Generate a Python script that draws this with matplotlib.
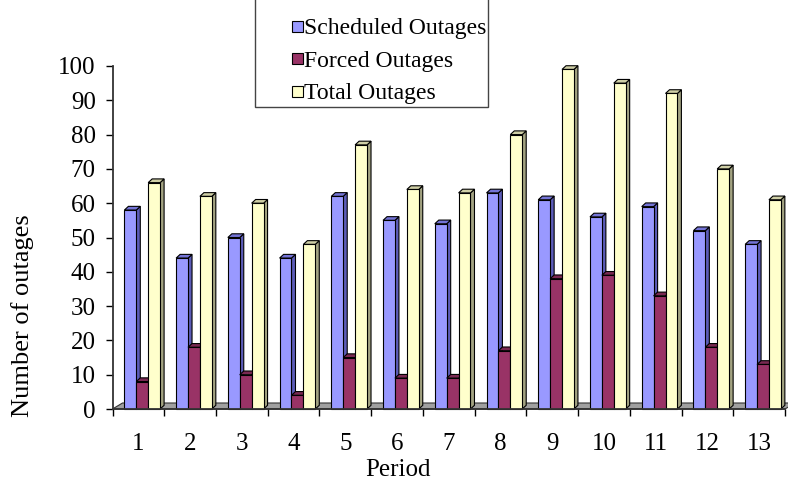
import matplotlib
matplotlib.use("Agg")
import matplotlib.pyplot as plt
from matplotlib.patches import Polygon, Rectangle
import numpy as np

plt.rcParams['font.family'] = ['Liberation Serif', 'DejaVu Serif']

# outages per period
periods = ['1', '2', '3', '4', '5', '6', '7', '8', '9', '10', '11', '12', '13']
scheduled = [58, 44, 50, 44, 62, 55, 54, 63, 61, 56, 59, 52, 48]
forced = [8, 18, 10, 4, 15, 9, 9, 17, 38, 39, 33, 18, 13]
total = [66, 62, 60, 48, 77, 64, 63, 80, 99, 95, 92, 70, 61]

series = [
    ('Scheduled Outages', scheduled, '#9999FF', '#5C5CB8', '#7474D6'),
    ('Forced Outages', forced, '#993366', '#5E1F3F', '#7A2952'),
    ('Total Outages', total, '#FFFFCC', '#A3A382', '#CFCFA6'),
]

W, H = 788, 484
fig = plt.figure(figsize=(W / 100, H / 100), dpi=100)
ax_l, ax_r, ax_b, ax_t = 112.5, 785, 409, 66
ax = fig.add_axes([ax_l / W, (H - ax_b) / H, (ax_r - ax_l) / W, (ax_b - ax_t) / H])
ax.set_xlim(0, len(periods))
ax.set_ylim(0, 100)

# pixel -> data conversions for the fake 3d depth
px_x = len(periods) / (ax_r - ax_l)
px_y = 100 / (ax_b - ax_t)
bdx, bdy = 4 * px_x, 3.7 * px_y      # bar depth
fdx, fdy = 10 * px_x, 6 * px_y       # floor depth

n = len(periods)
floor = Polygon([(0, 0), (n, 0), (n + fdx, fdy), (fdx, fdy)], closed=True,
                facecolor='#A0A0A0', edgecolor='#333333', lw=0.8,
                clip_on=False, zorder=1)
ax.add_patch(floor)

bw = 0.23
x0 = 0.23
for i in range(n):
    for k, (name, vals, front, side, top) in enumerate(series):
        xl = i + x0 + k * bw
        xr = xl + bw
        v = vals[i]
        z = 2 + i * 3 + k
        ax.add_patch(Polygon([(xr, 0), (xr + bdx, bdy), (xr + bdx, v + bdy), (xr, v)],
                             closed=True, facecolor=side, edgecolor='black',
                             lw=0.8, clip_on=False, zorder=z))
        ax.add_patch(Polygon([(xl, v), (xr, v), (xr + bdx, v + bdy), (xl + bdx, v + bdy)],
                             closed=True, facecolor=top, edgecolor='black',
                             lw=0.8, clip_on=False, zorder=z))
        ax.add_patch(Rectangle((xl, 0), bw, v, facecolor=front, edgecolor='black',
                               lw=0.8, clip_on=False, zorder=z))

for s in ['top', 'right']:
    ax.spines[s].set_visible(False)
ax.spines['left'].set_linewidth(1.3)
ax.spines['bottom'].set_linewidth(1.3)
ax.spines['left'].set_color('#333333')
ax.spines['bottom'].set_color('#333333')
ax.spines['bottom'].set_zorder(100)

ax.set_yticks(np.arange(0, 101, 10))
ax.set_xticks(np.arange(0, n + 1), minor=False)
ax.set_xticklabels([])
ax.set_xticks(np.arange(n) + 0.5, minor=True)
ax.set_xticklabels(periods, minor=True)
ax.tick_params(axis='x', which='major', length=5, width=1, direction='out')
ax.tick_params(axis='x', which='minor', length=0, pad=17, labelsize=18)
ax.tick_params(axis='y', length=5, width=1, pad=7, labelsize=18)

ax.set_xlabel('Period', fontsize=18)
ax.xaxis.set_label_coords((398 - ax_l) / (ax_r - ax_l), -(470 - ax_b) / (ax_b - ax_t))
ax.xaxis.label.set_va('center')
fig.text(23 / W, 1 - 316 / H, 'Number of outages', rotation=90,
         ha='center', va='center', fontsize=19)

# legend box
fig.patches.append(Rectangle((255 / W, 1 - 107 / H), (488 - 255) / W, 110 / H,
                             transform=fig.transFigure, facecolor='white',
                             edgecolor='#444444', lw=1, zorder=50))
for k, (name, vals, front, side, top) in enumerate(series):
    yc = 26 + 32.5 * k
    fig.patches.append(Rectangle((292 / W, 1 - (yc + 5.5) / H), 11 / W, 11 / H,
                                 transform=fig.transFigure, facecolor=front,
                                 edgecolor='black', lw=0.8, zorder=51))
    fig.text(304 / W, 1 - yc / H, name, ha='left', va='center_baseline',
             fontsize=17, zorder=52)

fig.savefig('out.png', dpi=100)
